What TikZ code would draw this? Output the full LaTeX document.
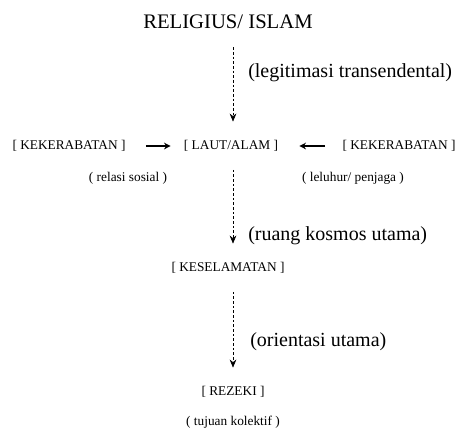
\documentclass[tikz,border=0pt]{standalone}
\usepackage{fontspec}
\setmainfont{Liberation Serif}
\usetikzlibrary{arrows.meta}
\begin{document}
	\begin{tikzpicture}[x=0.75pt, y=-0.75pt,
		small/.style={inner sep=0pt, font=\fontsize{10}{12}\selectfont},
		note/.style={inner sep=0pt, anchor=west, font=\fontsize{15}{18}\selectfont},
		flow/.style={dash pattern=on 2pt off 1.5pt, -{Stealth[length=6pt,width=5pt]}, shorten <=13.5pt, shorten >=14pt},
		link/.style={line width=1.2pt, -{Stealth[length=5pt,width=5pt]}}]
		\useasboundingbox (0,0) rectangle (458,429);
		\node[inner sep=0pt, font=\fontsize{15.5}{18}\selectfont] (religi) at (228,22) {RELIGIUS/ ISLAM};
		\node[note] (legit) at (248,73) {(legitimasi transendental)};
		
		\node[small] (kerabatL) at (69,146) {[ KEKERABATAN ]};
		\node[small] (laut) at (231,146) {[ LAUT/ALAM ]};
		\node[small] (kerabatR) at (399,146) {[ KEKERABATAN ]};
		\node[small] (relasi) at (128,178) {( relasi sosial )};
		\node[small] (leluhur) at (353,178) {( leluhur/ penjaga )};
		
		\node[note] (ruang) at (248,236) {(ruang kosmos utama)};
		\node[small] (selamat) at (228,268) {[ KESELAMATAN ]};
		\node[note] (orient) at (250,342) {(orientasi utama)};
		\node[small] (rezeki) at (233,392) {[ REZEKI ]};
		\node[small] (tujuan) at (233,422) {( tujuan kolektif )};
		
		\draw[flow] (religi.south -| rezeki) -- (laut.north -| rezeki);
		\draw[flow] (laut.south -| rezeki) -- (selamat.north -| rezeki);
		\draw[flow] (selamat.south -| rezeki) -- (rezeki.north);
		\draw[link, shorten <=15pt, shorten >=9.75pt] (kerabatL) -- (laut);
		\draw[link, shorten <=12.75pt, shorten >=15.75pt] (kerabatR) -- (laut);
	\end{tikzpicture}
\end{document}
